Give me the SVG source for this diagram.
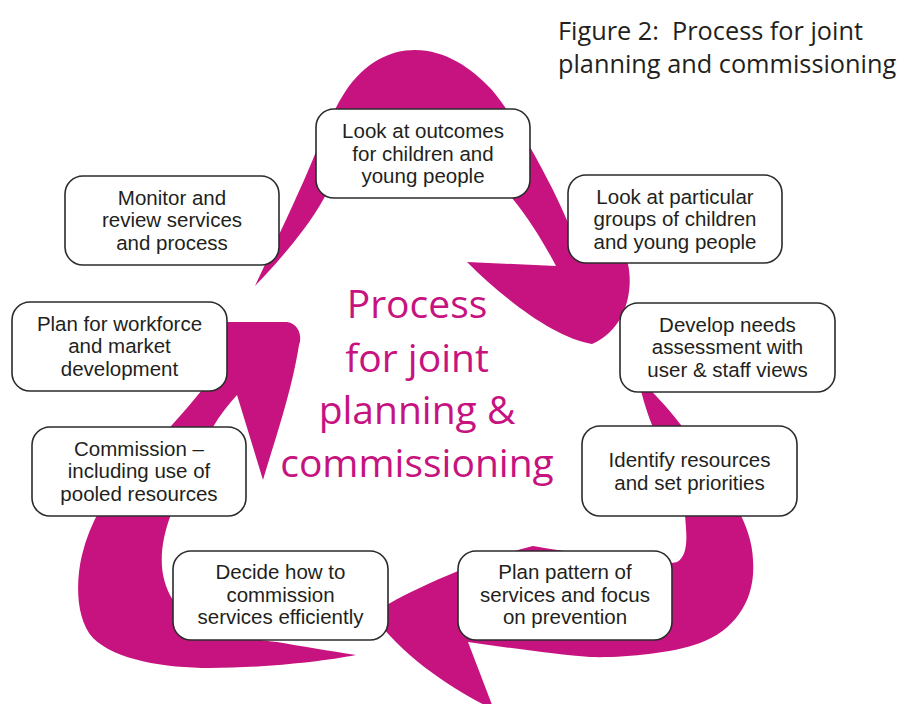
<svg xmlns="http://www.w3.org/2000/svg" width="913" height="704" viewBox="0 0 913 704">
  <style>
    .arrow { fill: #c6137f; }
    .box rect { fill: #ffffff; stroke: #2b2b2b; stroke-width: 1.6; }
    .box text { font-family: "Liberation Sans", Arial, sans-serif; font-size: 20.5px; fill: #231f20; text-anchor: middle; }
    .centre { font-family: "Open Sans", "Noto Sans", sans-serif; font-size: 39px; fill: #c6137f; text-anchor: middle; }
    .title { font-family: "Open Sans", "Noto Sans", sans-serif; font-size: 25.3px; fill: #231f20; white-space: pre; }
  </style>

  <rect width="913" height="704" fill="#ffffff"/>

  <!-- Title -->
  <text class="title" x="558" y="39.5" xml:space="preserve">Figure 2:  Process for joint</text>
  <text class="title" x="558" y="73">planning and commissioning</text>

  <!-- Curved cycle arrows -->
  <g id="connectors">
    <path id="arrow-top" class="arrow" d="M255,286 C268,258 290,212 305,178 C318,148 330,115 345,92 C365,62 390,50 415,50 C445,50 472,68 492,90 C515,118 535,155 552,188 C560,204 566,218 572,232 C595,240 615,250 628,264 C634,292 625,330 592,344 C555,338 505,300 467,262 L556,266 C545,245 530,220 512,198 C490,160 450,118 415,118 C380,118 345,160 323,200 C305,232 275,265 255,286 Z"/>
    <path id="arrow-right" class="arrow" d="M638,378 C660,398 688,430 712,470 C735,500 752,530 753,560 C756,600 735,630 700,643 C670,654 620,658 590,657 C560,655 510,648 468,642 L494,710 C455,690 405,660 372,614 C400,595 470,562 533,546 C590,555 650,568 677,562 C690,555 686,530 685,515 C684,480 665,445 652,425 C646,410 641,392 638,378 Z"/>
    <path id="arrow-left" class="arrow" d="M356,655 C320,662 260,668 210,668 C165,668 115,660 93,638 C75,618 76,580 82,555 C88,530 100,505 120,480 C140,455 158,440 172,425 C182,414 192,402 202,390 L205,360 L215,322 L287,322 C300,324 302,338 299,345 C292,390 275,440 263,480 L237,395 C228,405 220,415 213,427 C195,455 175,490 170,517 C160,545 157,575 173,600 C210,630 250,640 277,642 C300,646 330,651 356,655 Z"/>
  </g>

  <!-- Centre label -->
  <g id="centre-label">
    <text class="centre" x="417" y="318">Process</text>
    <text class="centre" x="417" y="372">for joint</text>
    <text class="centre" x="417" y="424">planning &amp;</text>
    <text class="centre" x="417" y="477">commissioning</text>
  </g>

  <!-- Process steps -->
  <g id="node-outcomes" class="box">
    <rect x="316" y="109" width="214" height="89" rx="18"/>
    <text x="423" y="138">Look at outcomes</text>
    <text x="423" y="160.5">for children and</text>
    <text x="423" y="183">young people</text>
  </g>

  <g id="node-groups" class="box">
    <rect x="568" y="175" width="214" height="88" rx="18"/>
    <text x="675" y="203.5">Look at particular</text>
    <text x="675" y="226">groups of children</text>
    <text x="675" y="248.5">and young people</text>
  </g>

  <g id="node-needs" class="box">
    <rect x="620" y="303" width="215" height="89" rx="18"/>
    <text x="727.5" y="331.5">Develop needs</text>
    <text x="727.5" y="354">assessment with</text>
    <text x="727.5" y="376.5">user &amp; staff views</text>
  </g>

  <g id="node-resources" class="box">
    <rect x="582" y="426" width="215" height="90" rx="18"/>
    <text x="689.5" y="467">Identify resources</text>
    <text x="689.5" y="489.5">and set priorities</text>
  </g>

  <g id="node-pattern" class="box">
    <rect x="458" y="551" width="214" height="89" rx="18"/>
    <text x="565" y="579">Plan pattern of</text>
    <text x="565" y="601.5">services and focus</text>
    <text x="565" y="624">on prevention</text>
  </g>

  <g id="node-decide" class="box">
    <rect x="173" y="551" width="215" height="89" rx="18"/>
    <text x="280.5" y="579">Decide how to</text>
    <text x="280.5" y="601.5">commission</text>
    <text x="280.5" y="624">services efficiently</text>
  </g>

  <g id="node-commission" class="box">
    <rect x="32" y="427" width="214" height="89" rx="18"/>
    <text x="139" y="455.5">Commission –</text>
    <text x="139" y="478">including use of</text>
    <text x="139" y="500.5">pooled resources</text>
  </g>

  <g id="node-workforce" class="box">
    <rect x="12" y="302" width="215" height="89" rx="18"/>
    <text x="119.5" y="330.5">Plan for workforce</text>
    <text x="119.5" y="353">and market</text>
    <text x="119.5" y="375.5">development</text>
  </g>

  <g id="node-monitor" class="box">
    <rect x="65" y="176" width="214" height="89" rx="18"/>
    <text x="172" y="204.5">Monitor and</text>
    <text x="172" y="227">review services</text>
    <text x="172" y="249.5">and process</text>
  </g>
</svg>
